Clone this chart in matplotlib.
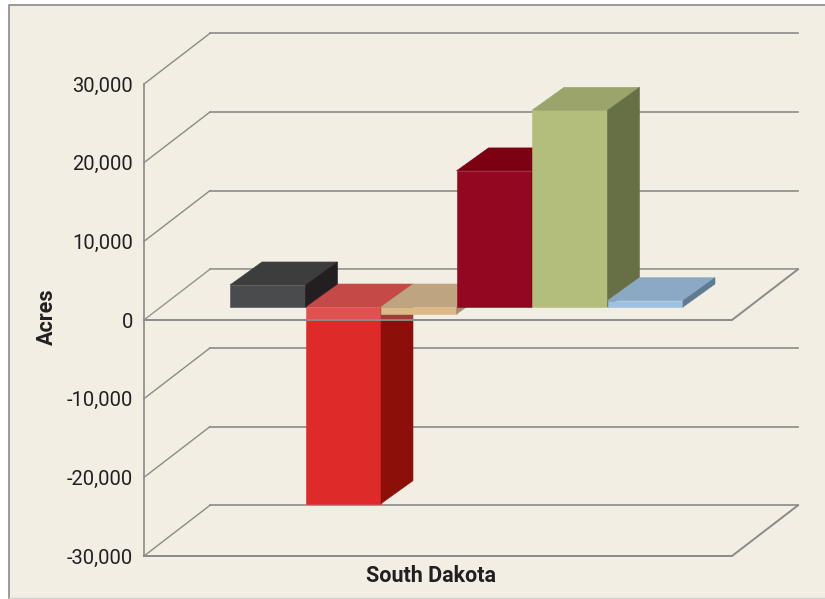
#!/usr/bin/python
# -*- encoding: utf-8 -*-

import matplotlib
matplotlib.use('Agg')
import matplotlib.pyplot as plt
from matplotlib.patches import Polygon, Rectangle
from matplotlib.lines import Line2D

# values (acres)
category = "South Dakota"
values = [2800, -25000, -900, 17300, 25000, 800]
yticks = [-30000, -20000, -10000, 0, 10000, 20000, 30000]
yticklabels = ["-30,000", "-20,000", "-10,000", "0", "10,000", "20,000", "30,000"]

# (front, top, side)
bar_colors = [
    ("#4A4B4D", "#3D3D3D", "#231F20"),
    ("#DF2A2A", "#BA2221", "#8C0F0A"),
    ("#D7AC73", "#B39467", "#8A7A55"),
    ("#930720", "#7A0012", "#5E0010"),
    ("#B4BE7C", "#9BA46B", "#676F45"),
    ("#9CC1E3", "#8BA9C4", "#5F7A93"),
]
bg = "#F2EEE4"
grid = "#8C8A88"

plt.rcParams['font.family'] = ['Roboto', 'DejaVu Sans']

fig = plt.figure(figsize=(8.25, 5.99), dpi=100, facecolor="white")
W, H = 825.0, 599.0

# panel behind everything
fig.add_artist(Rectangle((8.5 / W, 1 - 597.5 / H), 1 - 8.5 / W, (597.5 - 4.5) / H,
                         transform=fig.transFigure, facecolor=bg, edgecolor="none", zorder=-3))
fig.add_artist(Line2D([8.5 / W, 8.5 / W, 1], [1 - 597.5 / H, 1 - 4.5 / H, 1 - 4.5 / H],
                      transform=fig.transFigure, color="#8A8A8A", lw=1.2, zorder=-2))
fig.add_artist(Line2D([8.5 / W, 1], [1 - 598 / H, 1 - 598 / H],
                      transform=fig.transFigure, color="#D2D0CC", lw=1.0, zorder=-2))

ax = fig.add_axes([144 / W, 1 - 556 / H, 655 / W, 472 / H])
ax.patch.set_visible(False)

bar_px = 75.5                       # one bar, in pixels
px_y = 472.0 / 60000                # pixels per acre
ax.set_ylim(-30000, 30000)
ax.set_xlim((144 - 230) / bar_px, (799 - 230) / bar_px)

# oblique offsets of the chart box and of the bars
wall_dx = 66 / bar_px
wall_dy = 50.7 / px_y
front_right = (732 - 230) / bar_px
x0 = ax.get_xlim()[0]
depth_x = 32 / bar_px
depth_y = 23 / px_y
lift_y = 13 / px_y


def add_poly(pts, color, z, alpha=None):
    ax.add_patch(Polygon(pts, closed=True, facecolor=color, edgecolor=color if alpha is None else "none",
                         lw=0.4, alpha=alpha, zorder=z, clip_on=False))


def draw_bar(i, v, z):
    f, t, s = bar_colors[i]
    x1, x2 = i, i + 1
    y0 = lift_y
    y1 = v + lift_y
    hi, lo = max(y0, y1), min(y0, y1)
    add_poly([(x1, lo), (x2, lo), (x2, hi), (x1, hi)], f, z)
    add_poly([(x1, hi), (x2, hi), (x2 + depth_x, hi + depth_y), (x1 + depth_x, hi + depth_y)], t, z)
    add_poly([(x2, lo), (x2 + depth_x, lo + depth_y), (x2 + depth_x, hi + depth_y), (x2, hi)], s, z)


# back wall lines and the diagonals to the axis
for t in yticks:
    ax.plot([x0 + wall_dx, front_right + wall_dx], [t + wall_dy, t + wall_dy],
            color=grid, lw=1.2, zorder=1, clip_on=False)
    ax.plot([x0, x0 + wall_dx], [t, t + wall_dy], color=grid, lw=1.0, zorder=1, clip_on=False)

# floors at 0 and at the minimum
for t in [0, -30000]:
    ax.plot([x0, front_right, front_right + wall_dx], [t, t, t + wall_dy],
            color=grid, lw=1.4, zorder=1 if t else 4, clip_on=False)

# bars below the zero plane go under the see-through floor
for i, v in enumerate(values):
    if v < 0:
        draw_bar(i, v, 2)
add_poly([(x0, 0), (front_right, 0), (front_right + wall_dx, wall_dy), (x0 + wall_dx, wall_dy)],
         bg, 3, alpha=0.2)
for i, v in enumerate(values):
    if v >= 0:
        draw_bar(i, v, 5 + i)

for name in ['top', 'right', 'bottom']:
    ax.spines[name].set_visible(False)
ax.spines['left'].set_color(grid)
ax.spines['left'].set_linewidth(1.2)

ax.set_xticks([])
ax.set_yticks(yticks)
ax.set_yticklabels(yticklabels, fontsize=14.5, color="#231F20")
ax.tick_params(axis='y', length=0, pad=8)

ax.set_xlabel(category, fontsize=15.5, fontweight='bold', color="#231F20")
ax.xaxis.set_label_coords((431 - 144) / 655.0, -20 / 472.0)
ax.xaxis.label.set_va('center')
ax.set_ylabel("Acres", fontsize=15.5, fontweight='bold', color="#231F20")
ax.yaxis.set_label_coords((47 - 144) / 655.0, (556 - 317) / 472.0)
ax.yaxis.label.set_va('center')

plt.savefig("out.png", dpi=100, facecolor="white")
plt.close()
